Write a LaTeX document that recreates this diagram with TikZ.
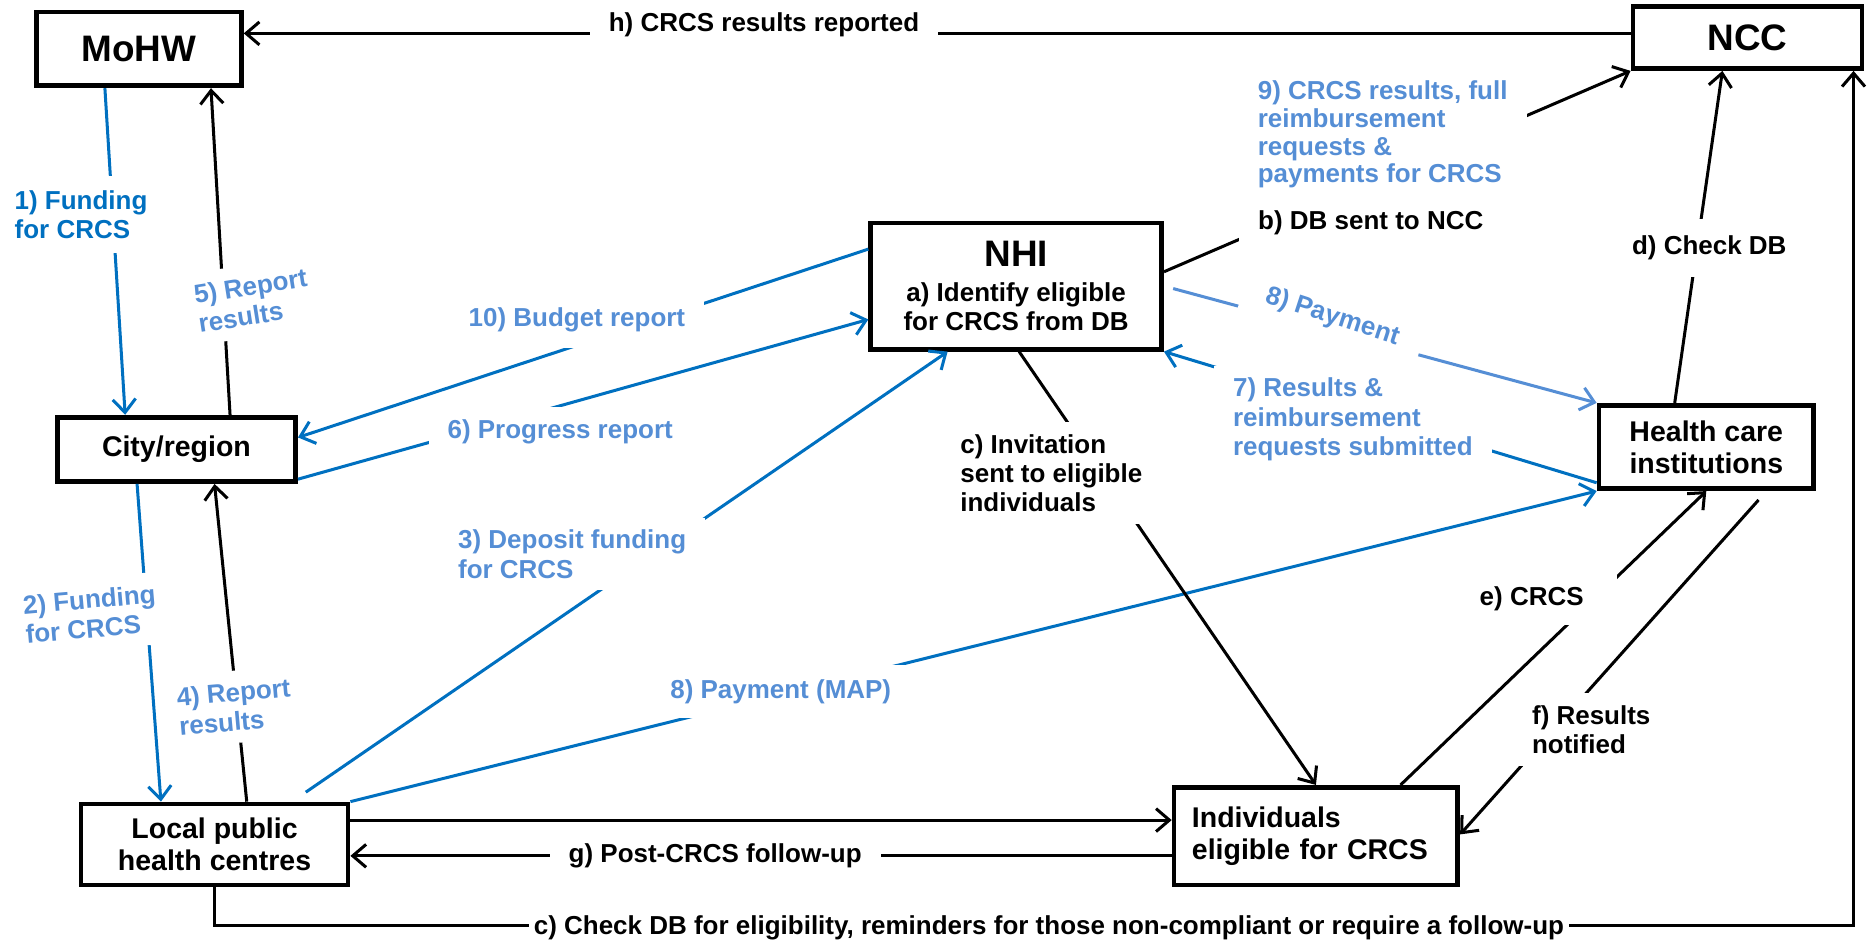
\documentclass[tikz,border=0pt]{standalone}
\usepackage{fontspec}
\setmainfont{Liberation Sans}
\usetikzlibrary{arrows.meta,calc}
\definecolor{dkblue}{RGB}{0,112,192}
\definecolor{ltblue}{RGB}{85,142,213}

\begin{document}
\begin{tikzpicture}[x=0.025cm,y=-0.025cm,inner sep=0.4mm,
  >={Straight Barb[length=2.8mm,width=4.8mm]},
  box/.style={draw,line width=2.8pt,align=center,font=\bfseries\fontsize{17}{19}\selectfont},
  bigbox/.style={box,font=\bfseries\fontsize{22}{24}\selectfont},
  con/.style={->,line width=1.8pt},
  blu/.style={con,dkblue},
  lblu/.style={con,ltblue},
  lab/.style={fill=white,align=left,inner xsep=4mm,inner ysep=2.5mm,font=\bfseries\fontsize{15.5}{17.5}\selectfont}]
\useasboundingbox (0,0) rectangle (1568,791);

\node[bigbox,minimum width=4.3cm,minimum height=1.55cm] (mohw) at (116.5,41) {MoHW};
\node[bigbox,minimum width=4.8cm,minimum height=1.3cm] (ncc) at (1466,31.5) {NCC};
\node[box,minimum width=6.1cm,minimum height=2.65cm,font=\bfseries\fontsize{15.5}{17.5}\selectfont] (nhi) at (852.5,240) {{\fontsize{22}{24}\selectfont NHI}\\[3pt] a) Identify eligible\\ for CRCS from DB};
\node[box,minimum width=5cm,minimum height=1.35cm] (city) at (148,377) {City/region};
\node[box,minimum width=4.5cm,minimum height=1.75cm] (hci) at (1431.5,375) {Health care\\ institutions};
\node[box,minimum width=5.6cm,minimum height=1.7cm] (lphc) at (180,708.5) {Local public\\ health centres};
\node[box,minimum height=2.05cm,align=left,text width=5.2cm,inner xsep=3.75mm] (indiv) at (1104,701.5) {Individuals\\ eligible for CRCS};

\draw[con] (ncc.west |- 0,28) -- (mohw.east |- 0,28);
\draw[blu] (mohw.south -| 88,0) -- (city.north -| 105,0);
\draw[con] (city.north -| 193,0) -- (mohw.south -| 177,0);
\draw[blu] (nhi.west |- 0,209) -- (city.east |- 0,367);
\draw[blu] (city.east |- 0,402) -- (nhi.west |- 0,268);
\draw[blu] (city.south -| 115,0) -- (lphc.north -| 135,0);
\draw[con] (lphc.north -| 207,0) -- (city.south -| 180,0);
\draw[blu,shorten <=3.5mm] (lphc.north -| 245,0) -- (nhi.south -| 795,0);
\draw[blu] (lphc.north east) -- (hci.south west);
\draw[con] (lphc.east |- 0,688) -- (indiv.west |- 0,688);
\draw[con] (indiv.west |- 0,718) -- (lphc.east |- 0,718);
\draw[con] (lphc.south) -- ++(0,32) -| (ncc.south -| 1555,0);
\draw[con] (nhi.east |- 0,228) -- (ncc.south west);
\draw[blu] (hci.west |- 0,405) -- (nhi.south east);
\draw[con] (nhi.south -| 855,0) -- (indiv.north);
\draw[con] (indiv.north -| 1175,0) -- (hci.south);
\draw[con,shorten <=2.5mm] (hci.south -| 1482,0) -- (indiv.east |- 0,700);
\draw[con] (hci.north -| 1405,0) -- (ncc.south -| 1445,0);

\node[lab] (lh) at (641,21) {h) CRCS results reported};
\node[lab,text=dkblue,inner ysep=3mm] (l1) at (68,180) {1) Funding\\for CRCS};
\node[lab,text=ltblue,rotate=9] (l5) at (212,252) {5) Report\\results};
\node[lab,text=ltblue,inner ysep=3.5mm] (l10) at (484,268) {10) Budget report};
\node[lab,text=ltblue] (l6) at (470,362) {6) Progress report};
\node[lab,text=ltblue,rotate=5] (l2) at (76,515) {2) Funding\\for CRCS};
\node[lab,text=ltblue,rotate=5] (l4) at (197,593) {4) Report\\results};
\node[lab,text=ltblue] (l3) at (480,465) {3) Deposit funding\\for CRCS};
\node[lab,text=ltblue,inner ysep=3mm] (lmap) at (655,580) {8) Payment (MAP)};
\node[lab] (lg) at (600,718) {g) Post-CRCS follow-up};
\node[lab,inner xsep=1mm] (lc) at (880,778) {c) Check DB for eligibility, reminders for those non-compliant or require a follow-up};
\node[lab] (lb) at (1150,187) {b) DB sent to NCC};
\node[lab,text=ltblue,font=\bfseries\fontsize{15.5}{16.5}\selectfont] (l9) at (1160,113) {9) CRCS results, full\\reimbursement\\requests \&\\payments for CRCS};
\node[lab,text=ltblue] (l7) at (1135,352) {7) Results \&\\reimbursement\\requests submitted};
\node[lab] (linv) at (882,397) {c) Invitation\\sent to eligible\\individuals};
\node[lab,inner xsep=7mm,inner ysep=3mm] (le) at (1285,502) {e) CRCS};
\node[lab] (lf) at (1335,612) {f) Results\\notified};
\node[lab,inner ysep=3.5mm] (ld) at (1434,208) {d) Check DB};

\draw[lblu,shorten <=2mm] (nhi.east |- 0,240) -- (hci.north west);
\node[lab,text=ltblue,rotate=-18,inner xsep=5mm,inner ysep=2mm] (lpay) at (1118,266) {8) Payment};
\end{tikzpicture}
\end{document}
